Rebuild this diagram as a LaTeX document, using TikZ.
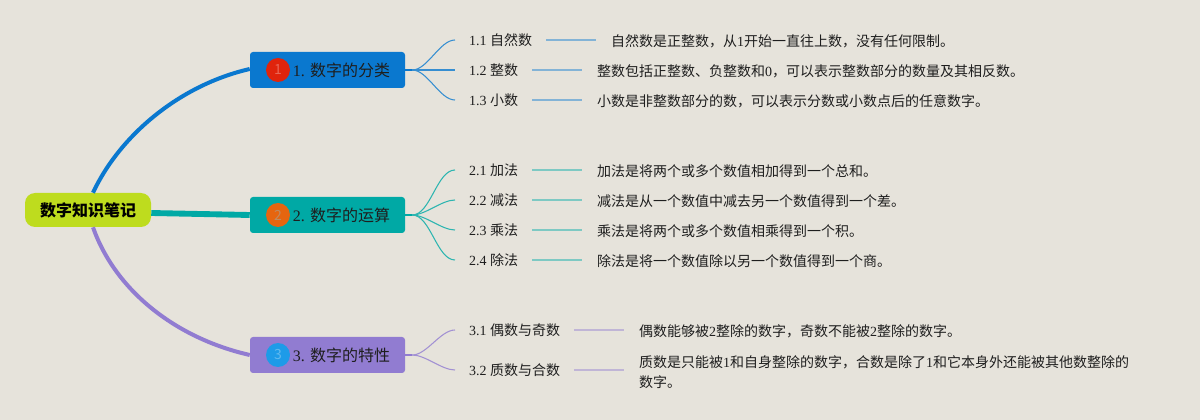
\documentclass[tikz,border=0pt]{standalone}
\usepackage{fontspec}
\setmainfont{Noto Sans CJK SC}
\newfontfamily\latfont{Liberation Serif}
\usepackage{tikz}
\usetikzlibrary{positioning,calc}
\usepackage{xcolor}
\definecolor{paper}{HTML}{E6E3DB}
\definecolor{inkdark}{HTML}{1E1E1E}
\definecolor{lime}{HTML}{BEDC1E}
\definecolor{bluebr}{HTML}{0A78CF}
\definecolor{tealbr}{HTML}{00A9A5}
\definecolor{purplebr}{HTML}{917CD1}
\definecolor{badgered}{HTML}{E0240C}
\definecolor{badgeorange}{HTML}{E6650F}
\definecolor{badgeblue}{HTML}{1E9BE8}
\definecolor{badgegrey}{HTML}{C08A5E}
\newcommand{\nm}[1]{{\latfont #1}}
\tikzset{
  rootbox/.style={fill=lime, rounded corners=7.5pt, minimum width=94.5pt, minimum height=25.5pt,
    inner sep=0pt, font=\fontsize{12pt}{14pt}\selectfont\bfseries, text=black},
  branchbox/.style={fill=#1, rounded corners=2.25pt, minimum width=116.25pt, minimum height=27pt,
    inner sep=0pt, text height=12pt, text depth=2pt, font=\fontsize{12pt}{14pt}\selectfont, text=inkdark},
  badge/.style={circle, fill=#1, minimum size=18pt, inner sep=0pt, font=\fontsize{10.5pt}{12pt}\selectfont},
  topicbox/.style={anchor=west, inner xsep=10.5pt, inner ysep=0pt, outer sep=0pt, text height=10pt, text depth=2pt,
    font=\fontsize{10.5pt}{15pt}\selectfont, text=inkdark},
  notebox/.style={align=left, inner xsep=11.25pt, inner ysep=0pt, outer sep=0pt, yshift=-0.75pt,
    font=\fontsize{10.5pt}{15pt}\selectfont, text=inkdark},
  fan/.style={#1, line width=0.8pt},
  stub/.style={#1, line width=1.5pt},
  link/.style={#1!45!paper, line width=1.2pt}
}
\begin{document}
\begin{tikzpicture}[x=0.75pt,y=-0.75pt]
  \useasboundingbox (0,0) rectangle (1200,420);
  \fill[paper] (0,0) rectangle (1200,420);
  % Root and branches
  \node[rootbox] (root) at (88,210) {数字知识笔记};
  \node[branchbox=bluebr] (catA) at (327.5,70) {\hspace*{21pt}\nm{1. }数字的分类};
  \node[branchbox=tealbr] (catB) at (327.5,215) {\hspace*{21pt}\nm{2. }数字的运算};
  \node[branchbox=purplebr] (catC) at (327.5,355) {\hspace*{21pt}\nm{3. }数字的特性};
  \node[badge=badgered, text=badgered!70!white] (badgeA) at (278,70) {1};
  \node[badge=badgeorange, text=badgegrey] (badgeB) at (278,215) {2};
  \node[badge=badgeblue, text=badgeblue!70!white] (badgeC) at (278,355) {3};
  % Main curves
  \draw[bluebr, line width=3pt] ([xshift=3.75pt]root.north) .. controls (120,135) and (180,85) .. ([yshift=0.75pt]catA.west);
  \draw[tealbr, line width=4.4pt] ([yshift=-2.25pt]root.east) -- (catB.west);
  \draw[purplebr, line width=3pt] ([xshift=3.75pt]root.south) .. controls (115,290) and (175,338) .. (catC.west);
  % Hubs
  \coordinate[right=5.25pt of catA.east] (hubA);
  \coordinate[right=5.25pt of catB.east] (hubB);
  \coordinate[right=5.25pt of catC.east] (hubC);
  \draw[stub=bluebr] (catA.east) -- (hubA);
  \draw[stub=tealbr] (catB.east) -- (hubB);
  \draw[stub=purplebr] (catC.east) -- (hubC);
  % Topics
  \node[topicbox] (tA) at (455,40) {\nm{1.1 }自然数};
  \node[topicbox] (tB) at (455,70) {\nm{1.2 }整数};
  \node[topicbox] (tC) at (455,100) {\nm{1.3 }小数};
  \node[topicbox] (tD) at (455,170) {\nm{2.1 }加法};
  \node[topicbox] (tE) at (455,200) {\nm{2.2 }减法};
  \node[topicbox] (tF) at (455,230) {\nm{2.3 }乘法};
  \node[topicbox] (tG) at (455,260) {\nm{2.4 }除法};
  \node[topicbox] (tH) at (455,330) {\nm{3.1 }偶数与奇数};
  \node[topicbox] (tI) at (455,370) {\nm{3.2 }质数与合数};
  % Notes
  \node[notebox, right=37.5pt of tA] (nA) {自然数是正整数，从\nm{1}开始一直往上数，没有任何限制。};
  \node[notebox, right=37.5pt of tB] (nB) {整数包括正整数、负整数和\nm{0}，可以表示整数部分的数量及其相反数。};
  \node[notebox, right=37.5pt of tC] (nC) {小数是非整数部分的数，可以表示分数或小数点后的任意数字。};
  \node[notebox, right=37.5pt of tD] (nD) {加法是将两个或多个数值相加得到一个总和。};
  \node[notebox, right=37.5pt of tE] (nE) {减法是从一个数值中减去另一个数值得到一个差。};
  \node[notebox, right=37.5pt of tF] (nF) {乘法是将两个或多个数值相乘得到一个积。};
  \node[notebox, right=37.5pt of tG] (nG) {除法是将一个数值除以另一个数值得到一个商。};
  \node[notebox, right=37.5pt of tH] (nH) {偶数能够被\nm{2}整除的数字，奇数不能被\nm{2}整除的数字。};
  \node[notebox, right=37.5pt of tI, yshift=-0.75pt] (nI) {质数是只能被\nm{1}和自身整除的数字，合数是除了\nm{1}和它本身外还能被其他数整除的\\数字。};
  % Fans and links
  \foreach \h/\t/\n/\c in {hubA/tA/nA/bluebr, hubA/tB/nB/bluebr, hubA/tC/nC/bluebr,
      hubB/tD/nD/tealbr, hubB/tE/nE/tealbr, hubB/tF/nF/tealbr, hubB/tG/nG/tealbr,
      hubC/tH/nH/purplebr, hubC/tI/nI/purplebr}{
    \draw[fan=\c!80!paper] (\h) to[out=0,in=180,looseness=0.75] (\t.west);
    \draw[link=\c] (\t.east) -- (\t.east -| \n.west);
  }
\end{tikzpicture}
\end{document}
